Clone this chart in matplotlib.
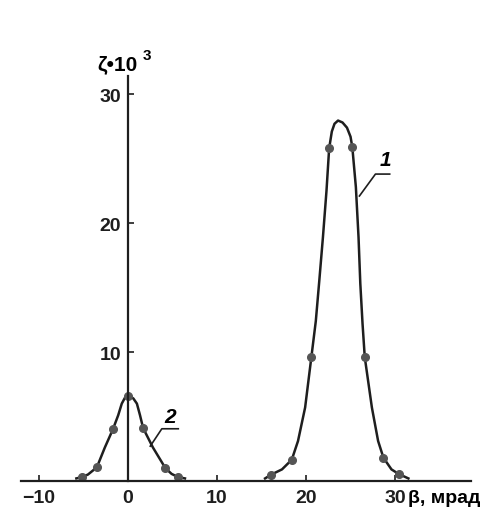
import matplotlib.pyplot as plt

plt.rcParams['font.family'] = ['Liberation Sans', 'DejaVu Sans']

beta_1 = [15.4, 16.1, 17.3, 18.4, 19.1, 19.9, 20.6, 21.1, 21.5, 21.9, 22.3, 22.6, 22.9, 23.2, 23.6,
          24.1, 24.6, 25.0, 25.2, 25.6, 25.9, 26.1, 26.35, 26.6, 27.4, 28.1, 28.7, 29.6, 30.4, 31.5]
zeta_1 = [0.2, 0.5, 0.9, 1.65, 3.1, 5.7, 9.6, 12.4, 15.6, 18.9, 22.5, 25.8, 27.1, 27.7, 27.95,
          27.8, 27.4, 26.7, 25.9, 22.8, 18.9, 15.3, 12.2, 9.6, 5.7, 3.1, 1.8, 0.9, 0.55, 0.2]
# Маркеры кривой 1
beta_1_pts = [16.1, 18.4, 20.6, 22.6, 25.2, 26.6, 28.7, 30.4]
zeta_1_pts = [0.5, 1.65, 9.6, 25.8, 25.9, 9.6, 1.8, 0.55]

# Кривая 2
beta_2 = [-5.8, -5.2, -4.5, -3.5, -2.6, -1.7, -1.1, -0.7, -0.35, 0.15, 0.6, 1.0, 1.35, 1.7, 2.8, 4.2, 4.9, 5.65, 6.4]
zeta_2 = [0.2, 0.3, 0.5, 1.06, 2.6, 4.0, 5.1, 6.0, 6.45, 6.6, 6.4, 6.0, 5.1, 4.1, 2.6, 1.0, 0.55, 0.3, 0.2]
# Маркеры кривой 2
beta_2_pts = [-5.2, -3.5, -1.7, 0.0, 1.7, 4.2, 5.65]
zeta_2_pts = [0.3, 1.06, 4.0, 6.6, 4.1, 1.0, 0.3]

x_ticks = [-10, 0, 10, 20, 30]
x_labels = ['\u221210', '0', '10', '20', '30']
y_ticks = [10, 20, 30]
y_labels = ['10', '20', '30']

fig = plt.figure(figsize=(4.87, 5.10), dpi=100)
ax = fig.add_axes([0.0435, 0.0549, 0.923, 0.794])
ax.set_xlim(-12, 38.5)
ax.set_ylim(0, 31.4)

ink = '#1e1e1e'

# Оси
for side in ['top', 'right']:
    ax.spines[side].set_visible(False)
for side in ['left', 'bottom']:
    ax.spines[side].set_position(('data', 0))
    ax.spines[side].set_linewidth(1.6)
    ax.spines[side].set_color(ink)

ax.set_xticks(x_ticks)
ax.set_xticklabels(x_labels)
ax.set_yticks(y_ticks)
ax.set_yticklabels(y_labels)
ax.tick_params(axis='x', direction='in', length=4, width=1.2, pad=6, labelsize=14, colors=ink)
ax.tick_params(axis='y', direction='in', length=4, width=1.2, pad=5, labelsize=14, colors=ink)
for lab in ax.get_xticklabels() + ax.get_yticklabels():
    lab.set_fontweight('bold')

# Кривые
ax.plot(beta_1, zeta_1, color=ink, lw=1.8, clip_on=False, solid_joinstyle='round')
ax.plot(beta_2, zeta_2, color=ink, lw=1.8, clip_on=False, solid_joinstyle='round')
ax.plot(beta_1_pts, zeta_1_pts, 'o', color='#555555', ms=5.5, clip_on=False)
ax.plot(beta_2_pts, zeta_2_pts, 'o', color='#555555', ms=5.5, clip_on=False)

# Выноски
ax.plot([26.0, 27.8, 29.4], [22.1, 23.8, 23.8], color=ink, lw=1.2)
ax.text(28.9, 24.9, '1', fontsize=15, fontstyle='italic', fontweight='bold', ha='center', va='center')
ax.plot([2.5, 3.8, 5.65], [2.7, 4.05, 4.05], color=ink, lw=1.2)
ax.text(4.7, 5.0, '2', fontsize=15, fontstyle='italic', fontweight='bold', ha='center', va='center')

# Подписи осей
ax.text(1.1, 31.9, '\u03b6\u202210', fontsize=15, fontweight='bold', ha='right', va='baseline', clip_on=False)
ax.text(1.7, 32.7, '3', fontsize=11, fontweight='bold', ha='left', va='baseline', clip_on=False)
ax.text(31.5, -1.25, '\u03b2, мрад', fontsize=14, fontweight='bold', ha='left', va='center', clip_on=False)

plt.savefig('out.png', dpi=100)
